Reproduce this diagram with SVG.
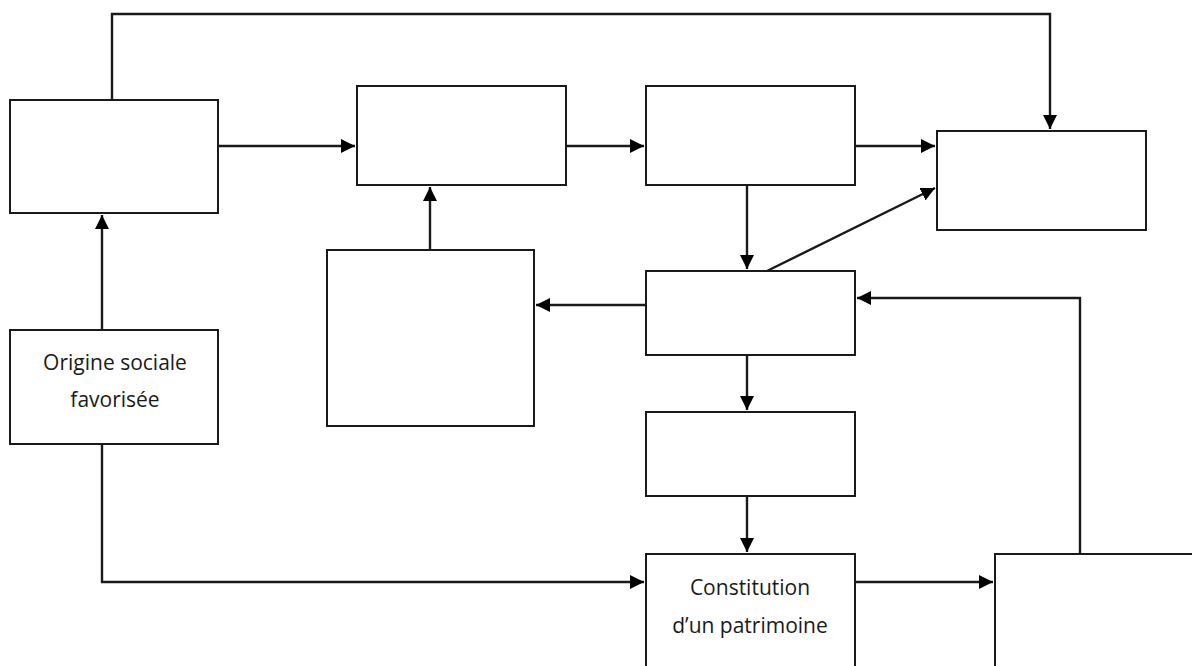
<svg xmlns="http://www.w3.org/2000/svg" width="1192" height="666" viewBox="0 0 1192 666">
<style>
.box{fill:#fff;stroke:#1a1a1a;stroke-width:2}
.con{fill:none;stroke:#1a1a1a;stroke-width:2.4}
.t{font-family:"Open Sans","Liberation Sans",sans-serif;font-size:21px;fill:#1a1a1a;text-anchor:middle}
</style>
<defs>
<marker id="ah" viewBox="0 0 14 14" refX="14" refY="7" markerWidth="14" markerHeight="14" markerUnits="userSpaceOnUse" orient="auto">
<path d="M0,0 L14,7 L0,14 Z" fill="#000"/>
</marker>
</defs>
<rect width="1192" height="666" fill="#fff"/>
<g id="connectors">
<polyline class="con" points="112,100 112,14 1050,14 1050,129" marker-end="url(#ah)"/>
<line class="con" x1="218" y1="146" x2="355" y2="146" marker-end="url(#ah)"/>
<line class="con" x1="566" y1="146" x2="644" y2="146" marker-end="url(#ah)"/>
<line class="con" x1="855" y1="146" x2="935" y2="146" marker-end="url(#ah)"/>
<line class="con" x1="747" y1="185" x2="747" y2="269" marker-end="url(#ah)"/>
<line class="con" x1="767" y1="271" x2="935" y2="188" marker-end="url(#ah)"/>
<line class="con" x1="646" y1="305" x2="536" y2="305" marker-end="url(#ah)"/>
<line class="con" x1="430" y1="250" x2="430" y2="187" marker-end="url(#ah)"/>
<line class="con" x1="102" y1="330" x2="102" y2="215" marker-end="url(#ah)"/>
<line class="con" x1="747" y1="355" x2="747" y2="410" marker-end="url(#ah)"/>
<line class="con" x1="747" y1="496" x2="747" y2="552" marker-end="url(#ah)"/>
<polyline class="con" points="102,444 102,582 644,582" marker-end="url(#ah)"/>
<line class="con" x1="855" y1="582" x2="993" y2="582" marker-end="url(#ah)"/>
<polyline class="con" points="1080,554 1080,298 857,298" marker-end="url(#ah)"/>
</g>
<g id="node-a"><rect class="box" x="10" y="100" width="208" height="113"/></g>
<g id="node-b"><rect class="box" x="357" y="86" width="209" height="99"/></g>
<g id="node-c"><rect class="box" x="646" y="86" width="209" height="99"/></g>
<g id="node-d"><rect class="box" x="937" y="131" width="209" height="99"/></g>
<g id="node-e"><rect class="box" x="327" y="250" width="207" height="176"/></g>
<g id="node-f"><rect class="box" x="646" y="271" width="209" height="84"/></g>
<g id="node-g"><rect class="box" x="646" y="412" width="209" height="84"/></g>
<g id="node-origine"><rect class="box" x="10" y="330" width="208" height="114"/>
<text class="t" x="115" y="370">Origine sociale</text>
<text class="t" x="115" y="407">favorisée</text></g>
<g id="node-patrimoine"><rect class="box" x="646" y="554" width="209" height="130"/>
<text class="t" x="750" y="595">Constitution</text>
<text class="t" x="750" y="633">d’un patrimoine</text></g>
<g id="node-i"><rect class="box" x="995" y="554" width="220" height="130"/></g>
</svg>
